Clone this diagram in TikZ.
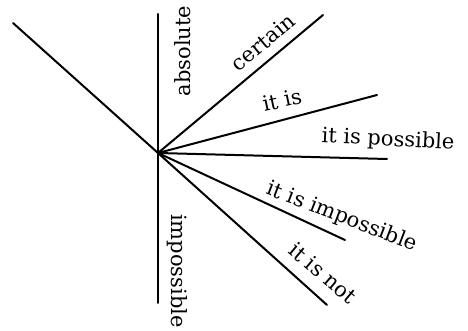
\documentclass[tikz,border=0pt]{standalone}
\usepackage{fontspec}
\setmainfont{DejaVu Serif}
\usetikzlibrary{positioning}

\begin{document}
\begin{tikzpicture}[
				x=1pt, y=1pt,
				ray/.style={line width=2pt, line cap=round},
				word/.style={font=\fontsize{21}{24}\selectfont, inner sep=0pt}
			]
			\useasboundingbox (0,0) rectangle (468,331);

			\coordinate (hub) at (158,178);
			\coordinate (far) at (13,308);
			\coordinate (up) at (158,317);
			\coordinate (down) at (158,28);
			\coordinate (certainend) at (323,316);
			\coordinate (itisend) at (377,236);
			\coordinate (possibleend) at (387,172);
			\coordinate (impossibleend) at (345,91);
			\coordinate (notend) at (327,26);

			\node[word, rotate=90] (absolute) at (183,280) {absolute};
			\node[word, rotate=-90] (impossible) at (177,60) {impossible};
			\node[word, rotate=40] (certain) at (263,289) {certain};
			\node[word, rotate=12] (itis) at (282,231) {it is};
			\node[word, rotate=-3] (possible) at (388,191) {it is possible};
			\node[word, rotate=-21] (itimpossible) at (342,114) {it is impossible};
			\node[word, rotate=-40] (isnot) at (323,58) {it is not};

			\draw[ray] (far) -- (hub);
			\draw[ray] (up) -- (down);
			\draw[ray] (hub) -- (certainend);
			\draw[ray] (hub) -- (itisend);
			\draw[ray] (hub) -- (possibleend);
			\draw[ray] (hub) -- (impossibleend);
			\draw[ray] (hub) -- (notend);

		\end{tikzpicture}
\end{document}
